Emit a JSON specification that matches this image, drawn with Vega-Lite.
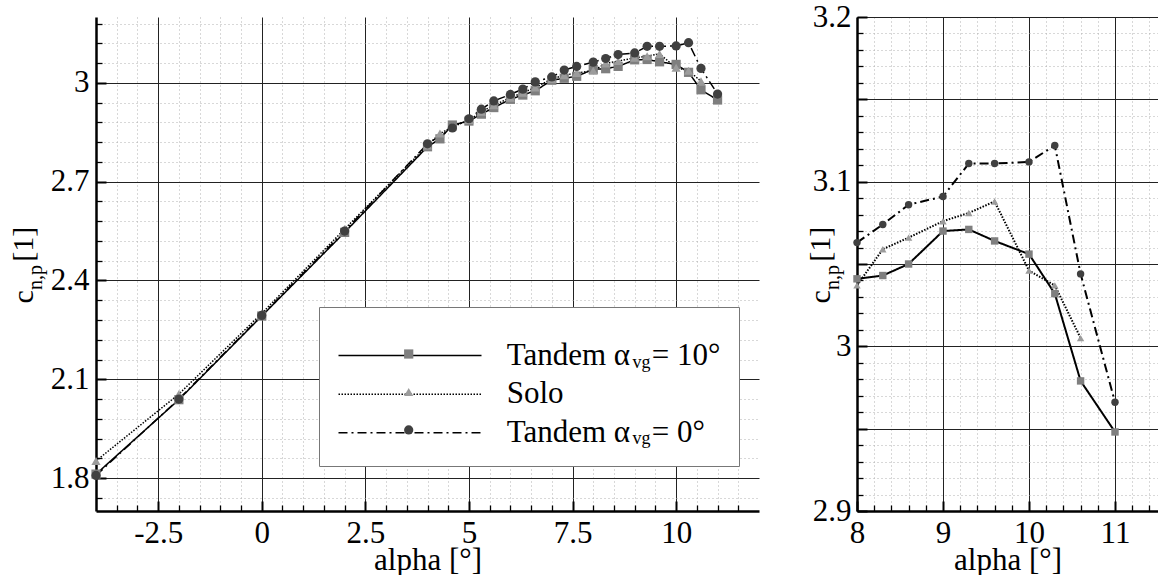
{
  "$schema": "https://vega.github.io/schema/vega-lite/v6.json",
  "padding": {"left": 8, "top": 1, "right": 0, "bottom": 0},
  "bounds": "flush",
  "spacing": 98,
  "config": {
    "font": "Liberation Serif",
    "view": {"stroke": null},
    "axis": {
      "labelFont": "Liberation Serif", "titleFont": "Liberation Serif",
      "labelColor": "black", "titleColor": "black", "titleFontWeight": "normal",
      "labelFlush": false, "labelOverlap": false, "labelBound": false
    },
    "legend": {"labelFont": "Liberation Serif", "titleFont": "Liberation Serif", "labelColor": "black"}
  },
  "datasets": {
    "d": [
      {"series": "T10", "alpha": -4, "cn": 1.812}, {"series": "T10", "alpha": -2, "cn": 2.038}, {"series": "T10", "alpha": 0, "cn": 2.292}, {"series": "T10", "alpha": 2, "cn": 2.546},
      {"series": "T10", "alpha": 4, "cn": 2.806}, {"series": "T10", "alpha": 4.3, "cn": 2.830}, {"series": "T10", "alpha": 4.6, "cn": 2.872}, {"series": "T10", "alpha": 5, "cn": 2.884},
      {"series": "T10", "alpha": 5.3, "cn": 2.905}, {"series": "T10", "alpha": 5.6, "cn": 2.925}, {"series": "T10", "alpha": 6, "cn": 2.950}, {"series": "T10", "alpha": 6.3, "cn": 2.963},
      {"series": "T10", "alpha": 6.6, "cn": 2.976}, {"series": "T10", "alpha": 7, "cn": 3.008}, {"series": "T10", "alpha": 7.3, "cn": 3.014}, {"series": "T10", "alpha": 7.6, "cn": 3.020},
      {"series": "T10", "alpha": 8, "cn": 3.041}, {"series": "T10", "alpha": 8.3, "cn": 3.043}, {"series": "T10", "alpha": 8.6, "cn": 3.050}, {"series": "T10", "alpha": 9, "cn": 3.070},
      {"series": "T10", "alpha": 9.3, "cn": 3.071}, {"series": "T10", "alpha": 9.6, "cn": 3.064}, {"series": "T10", "alpha": 10, "cn": 3.056}, {"series": "T10", "alpha": 10.3, "cn": 3.032},
      {"series": "T10", "alpha": 10.6, "cn": 2.979}, {"series": "T10", "alpha": 11, "cn": 2.948},
      {"series": "Solo", "alpha": -4, "cn": 1.852}, {"series": "Solo", "alpha": -2, "cn": 2.055}, {"series": "Solo", "alpha": 0, "cn": 2.300}, {"series": "Solo", "alpha": 2, "cn": 2.556},
      {"series": "Solo", "alpha": 4, "cn": 2.810}, {"series": "Solo", "alpha": 4.3, "cn": 2.846}, {"series": "Solo", "alpha": 4.6, "cn": 2.866}, {"series": "Solo", "alpha": 5, "cn": 2.887},
      {"series": "Solo", "alpha": 5.3, "cn": 2.912}, {"series": "Solo", "alpha": 5.6, "cn": 2.932}, {"series": "Solo", "alpha": 6, "cn": 2.955}, {"series": "Solo", "alpha": 6.3, "cn": 2.970},
      {"series": "Solo", "alpha": 6.6, "cn": 2.986}, {"series": "Solo", "alpha": 7, "cn": 3.012}, {"series": "Solo", "alpha": 7.3, "cn": 3.023}, {"series": "Solo", "alpha": 7.6, "cn": 3.030},
      {"series": "Solo", "alpha": 8, "cn": 3.037}, {"series": "Solo", "alpha": 8.3, "cn": 3.059}, {"series": "Solo", "alpha": 8.6, "cn": 3.066}, {"series": "Solo", "alpha": 9, "cn": 3.076},
      {"series": "Solo", "alpha": 9.3, "cn": 3.081}, {"series": "Solo", "alpha": 9.6, "cn": 3.088}, {"series": "Solo", "alpha": 10, "cn": 3.046}, {"series": "Solo", "alpha": 10.3, "cn": 3.037},
      {"series": "Solo", "alpha": 10.6, "cn": 3.005},
      {"series": "T0", "alpha": -4, "cn": 1.808}, {"series": "T0", "alpha": -2, "cn": 2.040}, {"series": "T0", "alpha": 0, "cn": 2.294}, {"series": "T0", "alpha": 2, "cn": 2.550},
      {"series": "T0", "alpha": 4, "cn": 2.815}, {"series": "T0", "alpha": 4.6, "cn": 2.863}, {"series": "T0", "alpha": 5, "cn": 2.891}, {"series": "T0", "alpha": 5.3, "cn": 2.920},
      {"series": "T0", "alpha": 5.6, "cn": 2.945}, {"series": "T0", "alpha": 6, "cn": 2.965}, {"series": "T0", "alpha": 6.3, "cn": 2.981}, {"series": "T0", "alpha": 6.6, "cn": 3.003},
      {"series": "T0", "alpha": 7, "cn": 3.018}, {"series": "T0", "alpha": 7.3, "cn": 3.039}, {"series": "T0", "alpha": 7.6, "cn": 3.050}, {"series": "T0", "alpha": 8, "cn": 3.063},
      {"series": "T0", "alpha": 8.3, "cn": 3.074}, {"series": "T0", "alpha": 8.6, "cn": 3.086}, {"series": "T0", "alpha": 9, "cn": 3.091}, {"series": "T0", "alpha": 9.3, "cn": 3.111},
      {"series": "T0", "alpha": 9.6, "cn": 3.111}, {"series": "T0", "alpha": 10, "cn": 3.112}, {"series": "T0", "alpha": 10.3, "cn": 3.122}, {"series": "T0", "alpha": 10.6, "cn": 3.044},
      {"series": "T0", "alpha": 11, "cn": 2.966}
    ]
  },
  "data": {"name": "d"},
  "resolve": {"scale": {"color": "independent", "shape": "independent", "strokeDash": "independent", "size": "independent"}},
  "hconcat": [
    {
      "width": 663,
      "height": 494,
      "layer": [
        {
          "mark": {"type": "line", "color": "black", "strokeWidth": 1.5},
          "encoding": {
            "x": {"field": "alpha", "type": "quantitative", "scale": {"domain": [-4, 12], "nice": false, "zero": false},
              "axis": {"values": [-2.5, 0, 2.5, 5, 7.5, 10], "labelExpr": "toString(datum.value)", "grid": true, "gridColor": "#222222", "gridWidth": 1,
                "ticks": true, "tickSize": -10, "tickWidth": 2, "tickColor": "black",
                "domain": true, "domainWidth": 2.5, "domainColor": "black",
                "labelFontSize": 31, "labelPadding": 17,
                "title": "alpha [°]", "titleFontSize": 31, "titleX": 331.5, "titleY": 58, "titleBaseline": "alphabetic", "titleAlign": "center", "titleAngle": 0}},
            "y": {"field": "cn", "type": "quantitative", "scale": {"domain": [1.7, 3.2], "nice": false, "zero": false},
              "axis": {"values": [1.8, 2.1, 2.4, 2.7, 3.0], "labelExpr": "toString(datum.value)", "grid": true, "gridColor": "#222222", "gridWidth": 1,
                "ticks": true, "tickSize": -10, "tickWidth": 2, "tickColor": "black",
                "domain": true, "domainWidth": 2.5, "domainColor": "black",
                "labelFontSize": 31, "labelPadding": 17,
                "title": "c\u2002\u2005\u2009[1]", "titleFontSize": 30, "titleX": -64, "titleY": 286, "titleAlign": "left", "titleBaseline": "alphabetic", "titleAngle": 270}},
            "strokeDash": {"field": "series", "type": "nominal", "sort": ["T10", "Solo", "T0"],
              "scale": {"range": [[1, 0], [1.5, 1.5], [9, 4, 2, 4]]},
              "legend": {"orient": "none", "legendX": 223, "legendY": 290, "title": " ", "titleFontSize": 10, "titlePadding": 5,
                "padding": 18, "fillColor": "white", "strokeColor": "#777777",
                "symbolType": "M-7.15,0H7.15", "symbolSize": 400, "symbolStrokeWidth": 1.5, "symbolStrokeColor": "black", "symbolFillColor": "transparent",
                "symbolOffset": 57.5, "labelOffset": 81.2, "labelFontSize": 31, "labelLimit": 500, "rowPadding": 6.65, "zindex": 1,
                "labelExpr": "datum.value == 'T10' ? 'Tandem α\u2002\u2009= 10°' : datum.value == 'Solo' ? 'Solo' : 'Tandem α\u2002\u2009= 0°'"}}
          }
        },
        {
          "mark": {"type": "point", "filled": true, "opacity": 1},
          "encoding": {
            "x": {"field": "alpha", "type": "quantitative", "scale": {"domain": [-4, 12], "nice": false, "zero": false},
              "axis": {"orient": "bottom", "values": [-3.5, -3, -2, -1.5, -1, -0.5, 0.5, 1, 1.5, 2, 3, 3.5, 4, 4.5, 5.5, 6, 6.5, 7, 8, 8.5, 9, 9.5, 10.5, 11, 11.5],
                "grid": true, "gridColor": "#b0b0b0", "gridDash": [1, 3], "gridWidth": 1,
                "ticks": true, "tickSize": -6, "tickWidth": 1.3, "tickColor": "black", "domain": false, "labels": false, "title": null}},
            "y": {"field": "cn", "type": "quantitative", "scale": {"domain": [1.7, 3.2], "nice": false, "zero": false},
              "axis": {"orient": "left", "values": [1.74, 1.86, 1.92, 1.98, 2.04, 2.16, 2.22, 2.28, 2.34, 2.46, 2.52, 2.58, 2.64, 2.76, 2.82, 2.88, 2.94, 3.06, 3.12, 3.18],
                "grid": true, "gridColor": "#b0b0b0", "gridDash": [1, 3], "gridWidth": 1,
                "ticks": true, "tickSize": -6, "tickWidth": 1.3, "tickColor": "black", "domain": false, "labels": false,
                "title": "n,p", "titleFontSize": 20, "titleX": -55, "titleY": 272.5, "titleAlign": "left", "titleBaseline": "alphabetic", "titleAngle": 270}},
            "shape": {"field": "series", "type": "nominal", "scale": {"domain": ["T10", "Solo", "T0"], "range": ["square", "triangle-up", "circle"]},
              "legend": {"orient": "none", "legendX": 303.7, "legendY": 328, "title": null, "padding": 0, "zindex": 2,
                "labelExpr": "datum.value == 'Solo' ? ' ' : 'vg'", "labelFontSize": 18, "labelOffset": 214.8, "labelBaseline": "top",
                "rowPadding": 10.95, "symbolStrokeWidth": 0,
                "encode": {"labels": {"dy": {"value": 12}}}}},
            "color": {"field": "series", "type": "nominal", "scale": {"domain": ["T10", "Solo", "T0"], "range": ["#7f7f7f", "#9c9c9c", "#404040"]},
              "legend": {"orient": "none", "legendX": 303.7, "legendY": 328, "title": null, "padding": 0, "zindex": 2,
                "labelExpr": "datum.value == 'Solo' ? ' ' : 'vg'", "labelFontSize": 18, "labelOffset": 214.8, "labelBaseline": "top",
                "rowPadding": 10.95, "symbolStrokeWidth": 0,
                "encode": {"labels": {"dy": {"value": 12}}}}},
            "size": {"field": "series", "type": "ordinal", "scale": {"domain": ["T10", "Solo", "T0"], "range": [85, 85, 130]},
              "legend": {"orient": "none", "legendX": 303.7, "legendY": 328, "title": null, "padding": 0, "zindex": 2,
                "labelExpr": "datum.value == 'Solo' ? ' ' : 'vg'", "labelFontSize": 18, "labelOffset": 214.8, "labelBaseline": "top",
                "rowPadding": 10.95, "symbolStrokeWidth": 0,
                "encode": {"labels": {"dy": {"value": 12}}}}}
          }
        }
      ],
      "resolve": {"axis": {"x": "independent", "y": "independent"}}
    },
    {
      "width": 301,
      "height": 494,
      "transform": [{"filter": "datum.alpha >= 8"}],
      "layer": [
        {
          "mark": {"type": "line", "color": "black", "strokeWidth": 2},
          "encoding": {
            "x": {"field": "alpha", "type": "quantitative", "scale": {"domain": [8, 11.5], "nice": false, "zero": false},
              "axis": {"values": [8, 9, 10, 11], "labelExpr": "toString(datum.value)", "grid": true, "gridColor": "#222222", "gridWidth": 1,
                "ticks": true, "tickSize": -10, "tickWidth": 2, "tickColor": "black",
                "domain": true, "domainWidth": 2.5, "domainColor": "black",
                "labelFontSize": 31, "labelPadding": 17,
                "title": "alpha [°]", "titleFontSize": 31, "titleX": 150.5, "titleY": 58, "titleBaseline": "alphabetic", "titleAlign": "center", "titleAngle": 0}},
            "y": {"field": "cn", "type": "quantitative", "scale": {"domain": [2.9, 3.2], "nice": false, "zero": false},
              "axis": {"values": [2.9, 2.95, 3.0, 3.05, 3.1, 3.15, 3.2], "grid": true, "gridColor": "#222222", "gridWidth": 1,
                "labelExpr": "abs(datum.value * 10 - round(datum.value * 10)) < 0.001 ? toString(round(datum.value * 10) / 10) : ''",
                "ticks": true, "tickSize": -10, "tickWidth": 2, "tickColor": "black",
                "domain": true, "domainWidth": 2.5, "domainColor": "black",
                "labelFontSize": 31, "labelPadding": 16,
                "title": "c\u2002\u2005\u2009[1]", "titleFontSize": 30, "titleX": -28, "titleY": 286, "titleAlign": "left", "titleBaseline": "alphabetic", "titleAngle": 270}},
            "strokeDash": {"field": "series", "type": "nominal", "sort": ["T10", "Solo", "T0"],
              "scale": {"range": [[1, 0], [1.5, 1.5], [9, 4, 2, 4]]}, "legend": null}
          }
        },
        {
          "mark": {"type": "point", "filled": true, "opacity": 1},
          "encoding": {
            "x": {"field": "alpha", "type": "quantitative", "scale": {"domain": [8, 11.5], "nice": false, "zero": false},
              "axis": {"orient": "bottom", "values": [8.2, 8.4, 8.6, 8.8, 9.2, 9.4, 9.6, 9.8, 10.2, 10.4, 10.6, 10.8, 11.2, 11.4],
                "grid": true, "gridColor": "#b0b0b0", "gridDash": [1, 3], "gridWidth": 1,
                "ticks": true, "tickSize": -6, "tickWidth": 1.3, "tickColor": "black", "domain": false, "labels": false, "title": null}},
            "y": {"field": "cn", "type": "quantitative", "scale": {"domain": [2.9, 3.2], "nice": false, "zero": false},
              "axis": {"orient": "left", "values": [2.91, 2.92, 2.93, 2.94, 2.96, 2.97, 2.98, 2.99, 3.01, 3.02, 3.03, 3.04, 3.06, 3.07, 3.08, 3.09, 3.11, 3.12, 3.13, 3.14, 3.16, 3.17, 3.18, 3.19],
                "grid": true, "gridColor": "#b0b0b0", "gridDash": [1, 3], "gridWidth": 1,
                "ticks": true, "tickSize": -6, "tickWidth": 1.3, "tickColor": "black", "domain": false, "labels": false,
                "title": "n,p", "titleFontSize": 20, "titleX": -19, "titleY": 272.5, "titleAlign": "left", "titleBaseline": "alphabetic", "titleAngle": 270}},
            "shape": {"field": "series", "type": "nominal", "scale": {"domain": ["T10", "Solo", "T0"], "range": ["square", "triangle-up", "circle"]}, "legend": null},
            "color": {"field": "series", "type": "nominal", "scale": {"domain": ["T10", "Solo", "T0"], "range": ["#7f7f7f", "#9c9c9c", "#404040"]}, "legend": null},
            "size": {"field": "series", "type": "ordinal", "scale": {"domain": ["T10", "Solo", "T0"], "range": [55, 55, 95]}, "legend": null}
          }
        }
      ],
      "resolve": {"axis": {"x": "independent", "y": "independent"}}
    }
  ]
}
